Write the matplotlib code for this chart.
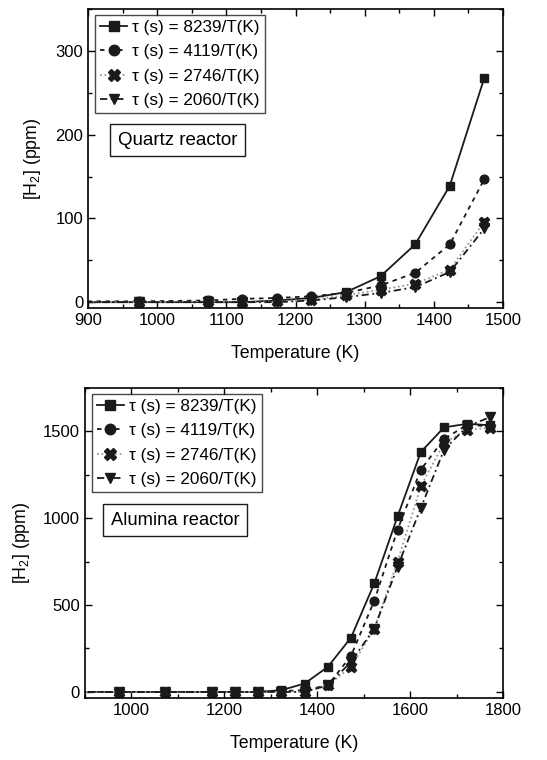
import matplotlib
matplotlib.use("Agg")
import matplotlib.pyplot as plt
from matplotlib.ticker import MultipleLocator

plt.rcParams['font.family'] = ['Liberation Sans', 'DejaVu Sans']
plt.rcParams['mathtext.fontset'] = 'custom'
plt.rcParams['mathtext.rm'] = 'Liberation Sans'

# 数据：石英反应器
T_quartz = [873, 973, 1073, 1123, 1173, 1223, 1273, 1323, 1373, 1423, 1473]
q_8239 = [0, 0, 0, 0, 2, 5, 12, 31, 69, 139, 268]
q_4119 = [1, 1, 2, 4, 5, 7, 11, 20, 35, 69, 147]
q_2746 = [0, 0, 1, 0, 1, 3, 8, 15, 22, 39, 96]
q_2060 = [0, 0, 0, 0, 0, 2, 6, 11, 18, 36, 88]

# 数据：氧化铝反应器
T_alumina = [873, 973, 1073, 1173, 1223, 1273, 1323, 1373, 1423, 1473, 1523, 1573, 1623, 1673, 1723, 1773]
a_8239 = [0, 0, 0, 0, 0, 0, 10, 48, 144, 313, 625, 1010, 1381, 1523, 1544, 1535]
a_4119 = [0, 0, 0, 0, 0, 0, 5, 10, 38, 208, 525, 933, 1279, 1456, 1538, 1529]
a_2746 = [0, 0, 0, 0, 0, 0, 0, 0, 38, 144, 365, 750, 1183, 1433, 1510, 1520]
a_2060 = [0, 0, 0, 0, 0, 0, 0, 0, 38, 173, 365, 721, 1058, 1394, 1529, 1583]

labels = ["\u03c4 (s) = 8239/T(K)", "\u03c4 (s) = 4119/T(K)",
          "\u03c4 (s) = 2746/T(K)", "\u03c4 (s) = 2060/T(K)"]

# 线型与标记
styles = [
    dict(marker='s', linestyle='-', color='#1a1a1a', ms=5.8),
    dict(marker='o', linestyle=(0, (2.5, 2.5)), color='#1a1a1a', ms=6.3),
    dict(marker='X', linestyle=(0, (1, 1.5)), color='#999999', ms=7.5, mfc='#1a1a1a', mec='#1a1a1a'),
    dict(marker='v', linestyle=(0, (4, 2, 1, 2)), color='#1a1a1a', ms=6.5),
]


def style_axes(ax, xmaj, xmin, ymaj, ymin, ylabelpad):
    ax.xaxis.set_major_locator(MultipleLocator(xmaj))
    ax.xaxis.set_minor_locator(MultipleLocator(xmin))
    ax.yaxis.set_major_locator(MultipleLocator(ymaj))
    ax.yaxis.set_minor_locator(MultipleLocator(ymin))
    ax.tick_params(which='both', direction='in', top=True, right=True, labelsize=12)
    ax.tick_params(which='major', length=5, width=1)
    ax.tick_params(which='minor', length=3, width=1)
    for s in ax.spines.values():
        s.set_linewidth(1.2)
    ax.set_xlabel("Temperature (K)", fontsize=12.8, labelpad=12)
    ax.set_ylabel(r"[H$_2$] (ppm)", fontsize=12.8, labelpad=ylabelpad)


def draw_panel(ax, T, series):
    for y, st, lab in zip(series, styles, labels):
        st = dict(st)
        mfc = st.pop('mfc', None)
        mec = st.pop('mec', None)
        ax.plot(T, y, label=lab, lw=1.3, markerfacecolor=mfc or st['color'],
                markeredgecolor=mec or st['color'], **st)
    leg = ax.legend(loc='upper left', bbox_to_anchor=(0.01, 0.99), fontsize=12.3,
                    frameon=True, fancybox=False, edgecolor='#1a1a1a',
                    handlelength=1.6, handletextpad=0.3, labelspacing=0.55,
                    borderpad=0.3, borderaxespad=0.15, numpoints=1, markerscale=1.2)
    leg.get_frame().set_linewidth(1.0)
    return leg


fig = plt.figure(figsize=(5.47, 7.6), dpi=100)

ax1 = fig.add_axes([0.161, 0.5947, 0.7586, 0.3933])
draw_panel(ax1, T_quartz, [q_8239, q_4119, q_2746, q_2060])
ax1.text(0.072, 0.562, "Quartz reactor", transform=ax1.transAxes, fontsize=13.5,
         ha='left', va='center',
         bbox=dict(boxstyle='square,pad=0.4', fc='white', ec='#1a1a1a', lw=1.0))
ax1.set_xlim(900, 1500)
ax1.set_ylim(-7, 350)
style_axes(ax1, 100, 50, 100, 50, 9)

ax2 = fig.add_axes([0.155, 0.0816, 0.7646, 0.4079])
draw_panel(ax2, T_alumina, [a_8239, a_4119, a_2746, a_2060])
ax2.text(0.062, 0.574, "Alumina reactor", transform=ax2.transAxes, fontsize=13.2,
         ha='left', va='center',
         bbox=dict(boxstyle='square,pad=0.4', fc='white', ec='#1a1a1a', lw=1.0))
ax2.set_xlim(900, 1800)
ax2.set_ylim(-35, 1750)
style_axes(ax2, 200, 100, 500, 250, 8)

fig.savefig("out.png", dpi=100)
